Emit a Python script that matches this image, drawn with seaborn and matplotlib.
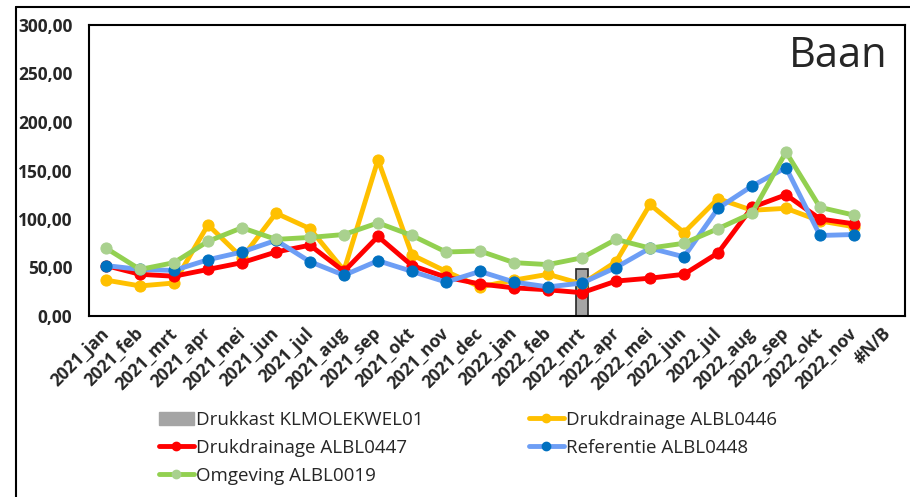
import numpy as np
import pandas as pd
import seaborn as sns
import matplotlib.pyplot as plt
from matplotlib import font_manager
from matplotlib.lines import Line2D
from matplotlib.patches import Patch
from matplotlib.ticker import FuncFormatter
from matplotlib.transforms import ScaledTranslation

months = ['2021_jan', '2021_feb', '2021_mrt', '2021_apr', '2021_mei', '2021_jun',
          '2021_jul', '2021_aug', '2021_sep', '2021_okt', '2021_nov', '2021_dec',
          '2022_jan', '2022_feb', '2022_mrt', '2022_apr', '2022_mei', '2022_jun',
          '2022_jul', '2022_aug', '2022_sep', '2022_okt', '2022_nov', '#N/B']

nan = np.nan
drukkast = [nan] * 14 + [48] + [nan] * 9
alb0446 = [37, 31, 34, 94, 60, 106, 90, 47, 161, 63, 46, 30,
           37, 43, 33, 56, 115, 86, 121, 109, 111, 98, 92, nan]
alb0447 = [52, 43, 41, 48, 55, 66, 73, 46, 82, 52, 40, 33,
           29, 27, 24, 36, 39, 43, 65, 112, 125, 100, 95, nan]
alb0448 = [52, 48, 47, 58, 66, 78, 56, 42, 57, 46, 35, 46,
           35, 30, 34, 50, 70, 61, 111, 134, 153, 83, 84, nan]
alb0019 = [70, 48, 55, 77, 91, 79, 81, 84, 96, 83, 66, 67,
           55, 53, 60, 79, 70, 75, 90, 106, 169, 112, 104, nan]

installed = {f.name for f in font_manager.fontManager.ttflist}
font = 'Liberation Sans Narrow' if 'Liberation Sans Narrow' in installed else 'Open Sans'

sns.set_style('white')
plt.rcParams['font.family'] = [font, 'DejaVu Sans']

fig = plt.figure(figsize=(9.1, 4.97), dpi=100)
ax = fig.add_axes([89 / 910, 1 - 316 / 497, 816 / 910, 291 / 497])

x = np.arange(len(months))
ax.bar(x, drukkast, width=0.37, color='#A5A5A5', edgecolor='#262626', linewidth=1.2, zorder=1)

series = [
    ('Drukdrainage ALBL0446', alb0446, '#FFC000', '#FFC000'),
    ('Drukdrainage ALBL0447', alb0447, '#FF0000', '#FF0000'),
    ('Referentie ALBL0448', alb0448, '#6D9EF5', '#0070C0'),
    ('Omgeving ALBL0019', alb0019, '#92D050', '#A9D18E'),
]
for name, vals, lc, mc in series:
    sns.lineplot(x=x, y=vals, ax=ax, color=lc, linewidth=3.5, marker='o', markersize=8,
                 markerfacecolor=mc, markeredgecolor=mc, zorder=3)

ax.set_xlim(-0.5, len(months) - 0.5)
ax.set_ylim(0, 300)
ax.set_yticks(np.arange(0, 301, 50))
ax.yaxis.set_major_formatter(FuncFormatter(lambda v, p: f'{v:.2f}'.replace('.', ',')))
ax.set_xticks(x)
ax.set_xticklabels(months, rotation=45, ha='right', rotation_mode='anchor')
ax.tick_params(axis='x', length=0, labelsize=12.5, pad=6)
ax.tick_params(axis='y', length=0, labelsize=12.5, pad=12)
shift = ScaledTranslation(-6 / 100, 0, fig.dpi_scale_trans)
for lab in ax.get_xticklabels():
    lab.set_fontweight('bold')
    lab.set_transform(lab.get_transform() + shift)
for lab in ax.get_yticklabels():
    lab.set_fontweight('bold')
for s in ax.spines.values():
    s.set_visible(True)
    s.set_color('black')
    s.set_linewidth(1.5)

ax.text(0.979, 0.965, 'Baan', transform=ax.transAxes, ha='right', va='top', fontsize=30,
        family=['Open Sans', 'DejaVu Sans'])

h_bar = Patch(facecolor='#A5A5A5', edgecolor='#A5A5A5', label='Drukkast KLMOLEKWEL01')
hs = {}
for name, vals, lc, mc in series:
    hs[name] = Line2D([], [], color=lc, linewidth=3.5, marker='o', markersize=6,
                      markerfacecolor=mc, markeredgecolor=mc, label=name)
handles = [h_bar, hs['Drukdrainage ALBL0447'], hs['Omgeving ALBL0019'],
           hs['Drukdrainage ALBL0446'], hs['Referentie ALBL0448']]
fig.legend(handles=handles, loc='upper left', bbox_to_anchor=(142 / 910, 1 - 394 / 497),
           ncol=2, frameon=False, fontsize=13.5, columnspacing=5.6, handlelength=1.85,
           handletextpad=0.15, labelspacing=0.53)

fig.add_artist(Line2D([16 / 910, 16 / 910], [0, 1 - 7 / 497], color='black', linewidth=1.5))
fig.add_artist(Line2D([16 / 910, 1], [1 - 7 / 497, 1 - 7 / 497], color='black', linewidth=1.5))

fig.savefig('out.png', dpi=100)
